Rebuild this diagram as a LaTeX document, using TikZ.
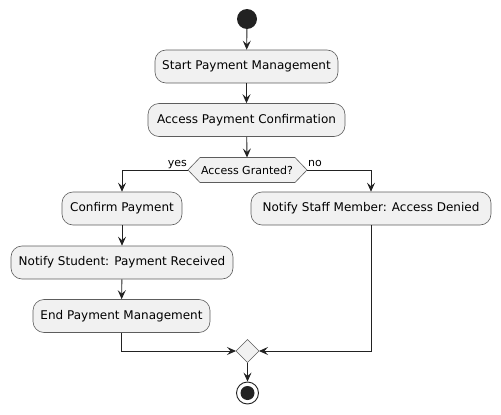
\documentclass[tikz,border=0pt]{standalone}
\usepackage{fontspec}
\setmainfont{DejaVu Sans}
\usetikzlibrary{arrows.meta}
\definecolor{boxfill}{HTML}{F1F1F1}
\definecolor{boxline}{HTML}{181818}
\definecolor{ink}{HTML}{222222}
\tikzset{
  act/.style={draw=boxline!70, fill=boxfill, rounded corners=11pt, line width=0.6pt,
    minimum height=33pt, inner xsep=0pt, font=\fontsize{12}{14}\selectfont, text=black},
  flow/.style={draw=ink, line width=0.9pt, -{Stealth[length=9pt,width=8pt,inset=3.5pt]}},
  shapeline/.style={draw=boxline!70, fill=boxfill, line width=0.6pt},
  lbl/.style={font=\fontsize{11}{13}\selectfont, inner sep=0pt}
}
\begin{document}
\begin{tikzpicture}[x=1pt,y=-1pt]
\useasboundingbox (0,0) rectangle (501,415);
% start
\node[circle, fill=ink, minimum size=20pt, inner sep=0pt] (start) at (247,19) {};
\node[act, minimum width=183pt] (a1) at (246.5,66.5) {Start Payment Management};
\node[act, minimum width=197pt] (a2) at (246.5,120) {Access Payment Confirmation};
% decision
\coordinate (dl) at (188,170);
\coordinate (dr) at (307,170);
\coordinate (dt) at (247,157.5);
\draw[shapeline]
  (dl) -- (200,157.5) -- (295,157.5) -- (dr) -- (295,182.5) -- (200,182.5) -- cycle;
\node[inner sep=0pt, font=\fontsize{11}{13}\selectfont] (d) at (247,170) {Access Granted?};
\node[lbl, anchor=base east] (yes) at (187,166) {yes};
\node[lbl, anchor=base west] (no) at (308,166) {no};
% left branch
\node[act, minimum width=120pt] (b1) at (122,208.5) {Confirm Payment};
\node[act, minimum width=222pt] (b2) at (122,262.5) {Notify Student: Payment Received};
\node[act, minimum width=177pt] (b3) at (121.5,316) {End Payment Management};
% right branch
\node[act, minimum width=240pt] (c1) at (371,208.5) {Notify Staff Member: Access Denied};
% merge
\coordinate (ml) at (236,351);
\coordinate (mr) at (259,351);
\coordinate (mb) at (247.5,362.5);
\draw[shapeline] (ml) -- (247.5,339.5) -- (mr) -- (mb) -- cycle;
% end
\node[circle, draw=ink, fill=white, line width=0.9pt, minimum size=22pt, inner sep=0pt] (end) at (247.5,393) {};
\node[circle, fill=ink, minimum size=14pt, inner sep=0pt] (endin) at (end) {};
% connectors
\draw[flow] (start) -- (a1);
\draw[flow] (a1) -- (a2);
\draw[flow] (a2) -- (dt);
\draw[flow] (dl) -| (b1.north);
\draw[flow] (dr) -| (c1.north);
\draw[flow] (b1) -- (b2);
\draw[flow] (b2) -- (b3);
\draw[flow] (b3.south) |- (ml);
\draw[flow] (c1.south) |- (mr);
\draw[flow] (mb) -- (end);
\end{tikzpicture}
\end{document}
